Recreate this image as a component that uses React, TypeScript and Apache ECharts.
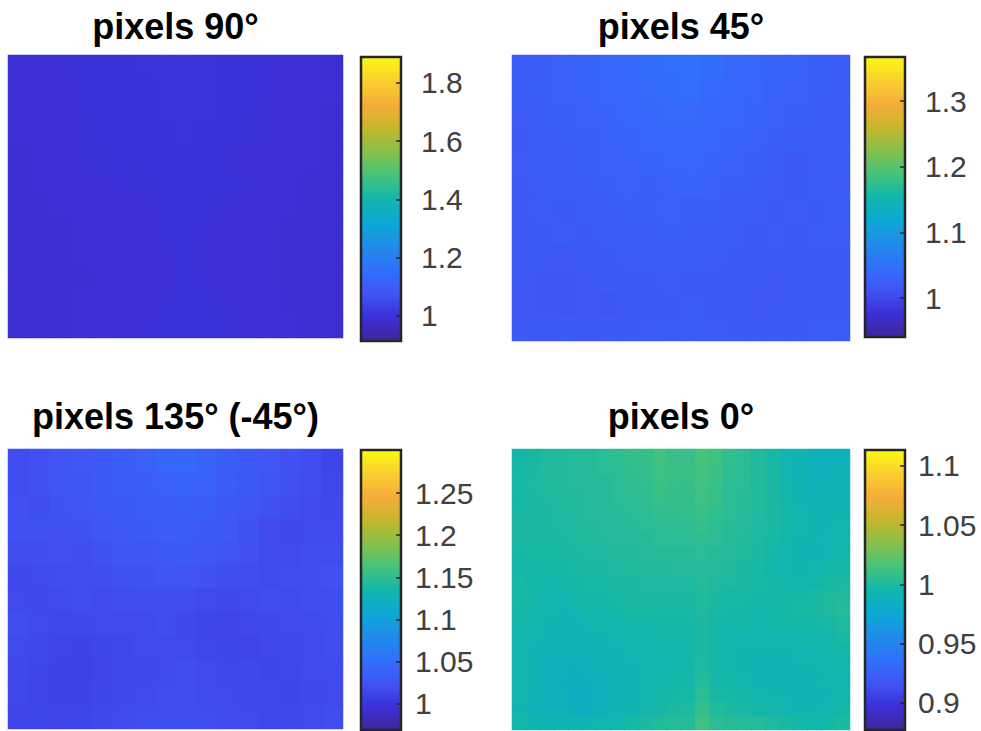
import React, { useEffect, useRef } from "react";
import * as echarts from "echarts";

const PARULA = ["#3E2698","#3C30D8","#4054F5","#3070FC","#208CE8","#0CA8D4","#12B6AC","#46C37A","#87C04B","#C8B62D","#F6AC3A","#FAD030","#FAFA14"];

const TITLES = ["pixels 90°", "pixels 45°", "pixels 135° (-45°)", "pixels 0°"];

const TICKS_90 = [1, 1.2, 1.4, 1.6, 1.8];
const TICKS_45 = [1, 1.1, 1.2, 1.3];
const TICKS_135 = [1, 1.05, 1.1, 1.15, 1.2, 1.25];
const TICKS_0 = [0.9, 0.95, 1, 1.05, 1.1];

const RANGE_90 = [0.914, 1.889];
const RANGE_45 = [0.941, 1.367];
const RANGE_135 = [0.969, 1.301];
const RANGE_0 = [0.877, 1.1135];

// values in thousandths, rows from top to bottom
const PIXELS_90 = [
  [990,992,994,995,996,998,999,1001,1001,1000,998,997,995,993,991,988],
  [991,993,993,995,997,998,998,1000,1001,999,998,996,995,993,991,989],
  [990,992,993,995,996,996,998,999,999,1000,997,996,994,992,991,988],
  [989,992,993,994,995,997,997,998,999,998,996,994,994,991,990,987],
  [988,990,992,994,994,996,997,997,998,997,995,993,991,992,989,986],
  [987,989,991,991,993,995,994,996,997,998,995,994,992,990,988,985],
  [986,988,990,991,991,993,995,996,997,996,994,992,991,989,987,984],
  [985,987,988,990,991,992,993,995,997,995,993,991,990,988,986,984],
  [984,986,987,989,990,990,992,994,997,994,992,991,989,987,985,983],
  [983,985,987,988,989,991,992,993,996,995,993,991,990,988,985,982],
  [984,985,986,989,990,991,993,995,997,996,994,992,991,988,985,983],
  [985,986,988,990,991,993,995,997,998,997,995,993,991,989,986,984],
];

const PIXELS_45 = [
  [1022,1026,1028,1031,1034,1037,1041,1045,1046,1043,1037,1034,1031,1029,1026,1024],
  [1023,1025,1027,1030,1032,1036,1039,1042,1044,1040,1036,1032,1029,1027,1025,1023],
  [1021,1024,1026,1028,1030,1033,1036,1038,1039,1037,1033,1030,1028,1026,1023,1024],
  [1020,1022,1025,1026,1029,1031,1033,1035,1036,1034,1031,1028,1025,1024,1022,1022],
  [1021,1023,1022,1025,1027,1028,1030,1032,1033,1031,1028,1026,1022,1019,1021,1023],
  [1020,1021,1023,1024,1025,1027,1026,1029,1030,1028,1025,1023,1021,1020,1022,1021],
  [1019,1021,1020,1022,1023,1025,1026,1027,1026,1025,1022,1021,1019,1021,1020,1022],
  [1020,1019,1021,1020,1022,1023,1024,1025,1024,1023,1021,1020,1021,1019,1021,1021],
  [1018,1017,1016,1018,1019,1021,1022,1023,1022,1021,1020,1018,1019,1020,1018,1020],
  [1017,1015,1014,1016,1018,1019,1020,1021,1020,1019,1018,1017,1016,1018,1019,1019],
  [1016,1014,1015,1016,1015,1017,1019,1020,1021,1020,1018,1016,1017,1017,1018,1020],
  [1019,1017,1018,1017,1018,1019,1021,1022,1023,1021,1020,1019,1020,1019,1021,1022],
];

const PIXELS_135 = [
  [1018,1021,1024,1027,1030,1032,1036,1041,1043,1038,1033,1030,1027,1023,1019,1012],
  [1020,1022,1024,1026,1029,1032,1034,1037,1039,1036,1032,1028,1024,1021,1018,1014],
  [1021,1020,1023,1025,1028,1030,1032,1034,1035,1033,1030,1026,1022,1019,1017,1015],
  [1022,1023,1021,1022,1025,1028,1029,1031,1032,1030,1027,1023,1016,1015,1017,1016],
  [1018,1020,1021,1020,1022,1025,1026,1028,1029,1027,1024,1021,1017,1016,1018,1019],
  [1015,1017,1018,1019,1020,1022,1023,1025,1024,1023,1020,1018,1017,1019,1020,1021],
  [1016,1015,1016,1018,1017,1019,1018,1020,1019,1016,1014,1016,1018,1017,1019,1020],
  [1018,1016,1014,1015,1016,1016,1017,1018,1015,1013,1012,1014,1015,1016,1017,1019],
  [1017,1015,1012,1011,1013,1014,1016,1017,1016,1014,1013,1012,1014,1015,1016,1018],
  [1015,1013,1011,1010,1012,1014,1015,1017,1018,1016,1014,1015,1013,1014,1016,1017],
  [1014,1012,1010,1011,1013,1015,1016,1018,1019,1017,1016,1014,1015,1013,1015,1016],
  [1012,1013,1012,1013,1015,1016,1018,1019,1020,1018,1017,1016,1014,1015,1016,1018],
];

const PIXELS_0 = [
  [996,998,1000,1001,1002,1003,1004,1006,1008,1009,1013,1010,1010,1015,1012,1007,1004,1001,998,994,991,988,987,989],
  [997,999,1001,1001,1002,1003,1004,1005,1007,1008,1012,1010,1010,1014,1011,1006,1004,1001,998,994,991,989,989,990],
  [998,1000,1000,1001,1002,1003,1003,1004,1006,1007,1011,1009,1009,1013,1010,1005,1004,1001,999,995,992,990,990,991],
  [997,999,1000,1001,1001,1002,1003,1004,1005,1006,1009,1008,1008,1012,1009,1005,1003,1001,999,996,993,991,991,992],
  [998,998,999,1000,1001,1002,1002,1003,1004,1005,1007,1007,1007,1010,1007,1004,1003,1001,999,997,994,992,993,993],
  [999,999,999,1000,1000,1001,1002,1002,1003,1004,1005,1005,1006,1008,1006,1003,1003,1000,999,997,995,993,993,994],
  [998,999,998,999,1000,1001,1001,1002,1002,1003,1004,1004,1004,1006,1004,1003,1001,1000,998,996,993,992,994,995],
  [997,998,998,998,999,1000,1000,1001,1001,1002,1003,1003,1003,1004,1003,1002,1000,999,997,994,992,991,994,996],
  [997,996,997,997,998,999,999,1000,1001,1001,1001,1002,1002,1003,1002,1001,999,998,996,994,993,994,996,997],
  [998,996,995,996,997,998,998,999,999,1000,1000,1000,1000,1002,1000,1000,999,998,997,996,995,996,998,999],
  [998,997,995,994,996,997,997,998,999,999,999,999,999,1001,999,998,998,997,997,997,997,998,1000,1001],
  [997,996,994,993,994,996,996,997,998,998,998,998,998,1000,998,997,997,996,996,997,998,999,1000,1002],
  [996,995,993,992,992,994,995,995,996,996,997,997,997,999,997,996,996,995,996,996,997,997,998,1000],
  [995,994,992,990,991,991,993,994,995,995,996,996,996,999,996,995,994,994,994,995,995,996,996,998],
  [994,993,990,989,989,990,991,992,994,994,995,995,996,999,996,995,993,993,993,993,994,994,995,996],
  [994,992,989,988,987,988,990,991,992,994,994,995,996,1000,996,995,993,993,992,993,993,993,994,995],
  [995,992,989,987,986,987,989,991,992,994,995,996,997,1002,997,996,994,993,992,992,993,993,994,994],
  [994,991,988,988,986,986,988,991,993,994,996,997,998,1004,998,997,996,994,993,993,992,993,993,995],
  [993,990,989,988,987,986,989,992,993,996,997,999,1000,1008,1001,999,998,996,995,994,993,992,994,996],
  [996,993,991,992,991,992,994,994,997,999,1001,1003,1003,1012,1005,1003,1002,1002,1000,998,996,995,997,999],
];

type Panel = {
  title: string; data: number[][]; range: number[]; ticks: number[];
  map: number[]; bar: number[]; titleY: number; margin: number; base: string;
};

const PANELS: Panel[] = [
  { title: TITLES[0], data: PIXELS_90, range: RANGE_90, ticks: TICKS_90, map: [8, 55, 335, 283], bar: [361, 57, 40, 284], titleY: 27, margin: 20, base: "#3C2ED0" },
  { title: TITLES[1], data: PIXELS_45, range: RANGE_45, ticks: TICKS_45, map: [512, 55, 338, 286], bar: [865, 57, 40, 280], titleY: 27, margin: 20, base: "#3A5AF8" },
  { title: TITLES[2], data: PIXELS_135, range: RANGE_135, ticks: TICKS_135, map: [8, 449, 335, 280], bar: [361, 450, 40, 280], titleY: 417, margin: 14, base: "#3E50F0" },
  { title: TITLES[3], data: PIXELS_0, range: RANGE_0, ticks: TICKS_0, map: [512, 449, 338, 281], bar: [865, 450, 40, 280], titleY: 417, margin: 13, base: "#1CB6A4" },
];

const seq = (n: number) => Array.from({ length: n }, (_, i) => String(i));

function buildOption() {
  const grid: any[] = [], xAxis: any[] = [], yAxis: any[] = [], series: any[] = [], visualMap: any[] = [], title: any[] = [];
  const stops = PARULA.map((color, i) => ({ offset: 1 - i / (PARULA.length - 1), color })).reverse();
  PANELS.forEach((p, i) => {
    const gi = i * 2;
    title.push({
      text: p.title, left: p.map[0] + p.map[2] / 2, top: p.titleY - 19, textAlign: "center", padding: 0,
      textStyle: { fontFamily: "Liberation Sans", fontWeight: "bold", fontSize: 36, color: "#000" },
    });
    grid.push({ show: true, backgroundColor: p.base, borderWidth: 0, left: p.map[0], top: p.map[1], width: p.map[2], height: p.map[3] });
    xAxis.push({ type: "category", gridIndex: gi, data: seq(p.data[0].length), show: false });
    yAxis.push({ type: "category", gridIndex: gi, data: seq(p.data.length), inverse: true, show: false });
    const cells: number[][] = [];
    p.data.forEach((row, y) => row.forEach((v, x) => cells.push([x, y, v / 1000])));
    series.push({
      type: "heatmap", xAxisIndex: gi, yAxisIndex: gi, data: cells,
      itemStyle: { borderWidth: 0 }, progressive: 0,
    });
    visualMap.push({
      type: "continuous", show: false, seriesIndex: series.length - 1, dimension: 2,
      min: p.range[0], max: p.range[1], inRange: { color: PARULA },
    });

    grid.push({ left: p.bar[0], top: p.bar[1], width: p.bar[2], height: p.bar[3] });
    xAxis.push({ type: "category", gridIndex: gi + 1, data: ["c"], show: false });
    yAxis.push({
      type: "value", gridIndex: gi + 1, position: "right", min: p.range[0], max: p.range[1], z: 5,
      splitLine: { show: false },
      axisLine: { show: false },
      axisTick: { show: true, inside: true, length: 5, customValues: p.ticks, lineStyle: { color: "#262626", width: 1.5 } },
      axisLabel: {
        show: true, customValues: p.ticks, margin: p.margin, formatter: (v: number) => String(v),
        fontFamily: "Liberation Sans", fontSize: 30, color: "#404040", hideOverlap: false, showMinLabel: true, showMaxLabel: true,
      },
    });
    series.push({
      type: "custom", coordinateSystem: "cartesian2d", xAxisIndex: gi + 1, yAxisIndex: gi + 1, clip: false, silent: true,
      z: 1,
      data: [[0, p.range[0], p.range[1]]],
      encode: { x: 0, y: [1, 2] },
      renderItem: (_: any, api: any) => {
        const lo = api.coord([0, api.value(1)]);
        const hi = api.coord([0, api.value(2)]);
        const w = api.size([1, 0])[0];
        return {
          type: "rect",
          shape: { x: lo[0] - w / 2, y: hi[1], width: w, height: lo[1] - hi[1] },
          style: {
            fill: new echarts.graphic.LinearGradient(0, 0, 0, 1, stops),
            stroke: "#262626", lineWidth: 2.5,
          },
        };
      },
    });
  });
  return { animation: false, backgroundColor: "#fff", title, grid, xAxis, yAxis, series, visualMap };
}

export default function App() {
  const ref = useRef<HTMLDivElement>(null);
  useEffect(() => {
    document.body.style.margin = "0";
    const chart = echarts.init(ref.current!, undefined, { renderer: "svg" });
    chart.setOption(buildOption() as any);
    return () => chart.dispose();
  }, []);
  return <div ref={ref} style={{ position: "absolute", left: 0, top: 0, width: 981, height: 731 }} />;
}
